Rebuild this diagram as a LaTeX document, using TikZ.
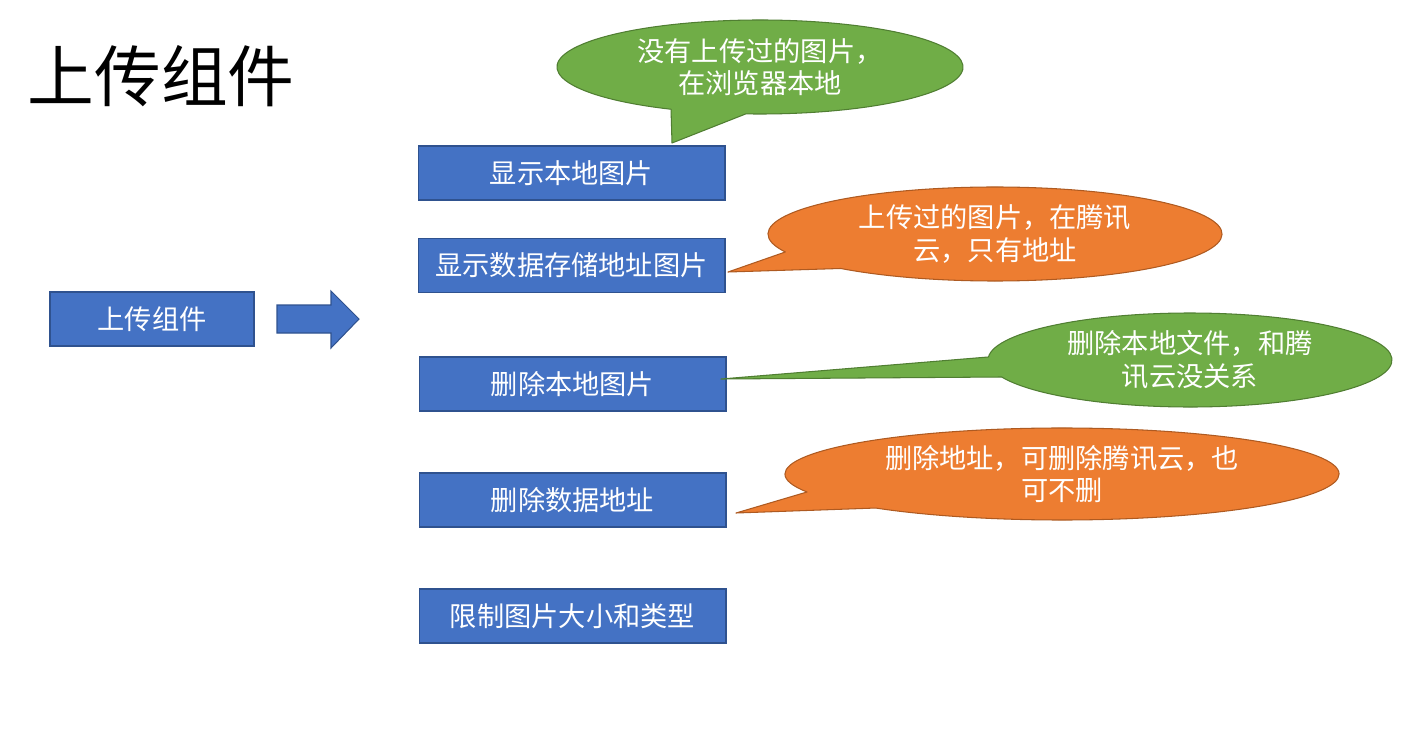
\documentclass[tikz,border=0pt]{standalone}
\usepackage{fontspec}
\setmainfont{Noto Sans CJK SC}
\usepackage{xcolor}
\definecolor{lan}{RGB}{68,114,196}
\definecolor{lanbian}{RGB}{47,82,143}
\definecolor{lv}{RGB}{112,173,71}
\definecolor{lvbian}{RGB}{80,126,50}
\definecolor{cheng}{RGB}{237,125,49}
\definecolor{chengbian}{RGB}{174,90,33}
\usepackage{tikz}

\begin{document}
\begin{tikzpicture}[
    x=0.02cm, y=-0.02cm,
    box/.style={rectangle, draw=lanbian, fill=lan, line width=0.6pt,
                text=white, font=\fontsize{15.5}{19}\selectfont,
                minimum width=6.14cm, minimum height=1.08cm, inner sep=0pt},
    calltext/.style={text=white, align=center, inner sep=0pt,
                     font=\fontsize{15.5}{18.5}\selectfont},
    greencall/.style={fill=lv, draw=lvbian, line width=0.6pt, line join=round},
    orangecall/.style={fill=cheng, draw=chengbian, line width=0.6pt, line join=round}
  ]
  \useasboundingbox (0,0) rectangle (1422,740);

  % title
  \node[font=\fontsize{38}{40}\selectfont] (title) at (161,76) {上传组件};

  % left block and big arrow
  \node[box, minimum width=4.08cm] (upload) at (152,319) {上传组件};
  \draw[fill=lan, draw=lanbian, line width=0.6pt]
    (277,305) -- (331,305) -- (331,291) -- (359,319) -- (331,348)
    -- (331,333) -- (277,333) -- cycle;

  % feature boxes
  \node[box] (showlocal) at (571.5,173)   {显示本地图片};
  \node[box] (showurl)   at (571.5,265.5) {显示数据存储地址图片};
  \node[box] (dellocal)  at (572.5,384)   {删除本地图片};
  \node[box] (delurl)    at (572.5,500)   {删除数据地址};
  \node[box] (limit)     at (572.5,616)   {限制图片大小和类型};

  % callout 1 (green, above)
  \coordinate (g1) at (760,67);
  \coordinate (g1tip) at (672,143);
  \draw[greencall] (g1) ++({203*cos(116)},{47*sin(116)})
    arc[start angle=116, end angle=454, x radius=203, y radius=47]
    -- (g1tip) -- cycle;
  \node[calltext] (g1text) at (g1) {没有上传过的图片，\\在浏览器本地};

  % callout 2 (orange)
  \coordinate (o1) at (995,234);
  \coordinate (o1tip) at (728,272);
  \draw[orangecall] (o1) ++({227*cos(157.5)},{47*sin(157.5)})
    arc[start angle=157.5, end angle=492.8, x radius=227, y radius=47]
    -- (o1tip) -- cycle;
  \node[calltext] (o1text) at (o1) {上传过的图片，在腾讯\\云，只有地址};

  % callout 3 (green)
  \coordinate (g2) at (1190,360);
  \coordinate (g2tip) at (721,379);
  \draw[greencall] (g2) ++({202*cos(183.7)},{47*sin(183.7)})
    arc[start angle=183.7, end angle=518.8, x radius=202, y radius=47]
    -- (g2tip) -- cycle;
  \node[calltext] (g2text) at (g2) {删除本地文件，和腾\\讯云没关系};

  % callout 4 (orange)
  \coordinate (o2) at (1062,474);
  \coordinate (o2tip) at (736,513);
  \draw[orangecall] (o2) ++({277*cos(157)},{46*sin(157)})
    arc[start angle=157, end angle=492.3, x radius=277, y radius=46]
    -- (o2tip) -- cycle;
  \node[calltext] (o2text) at (o2) {删除地址，可删除腾讯云，也\\可不删};
\end{tikzpicture}
\end{document}
